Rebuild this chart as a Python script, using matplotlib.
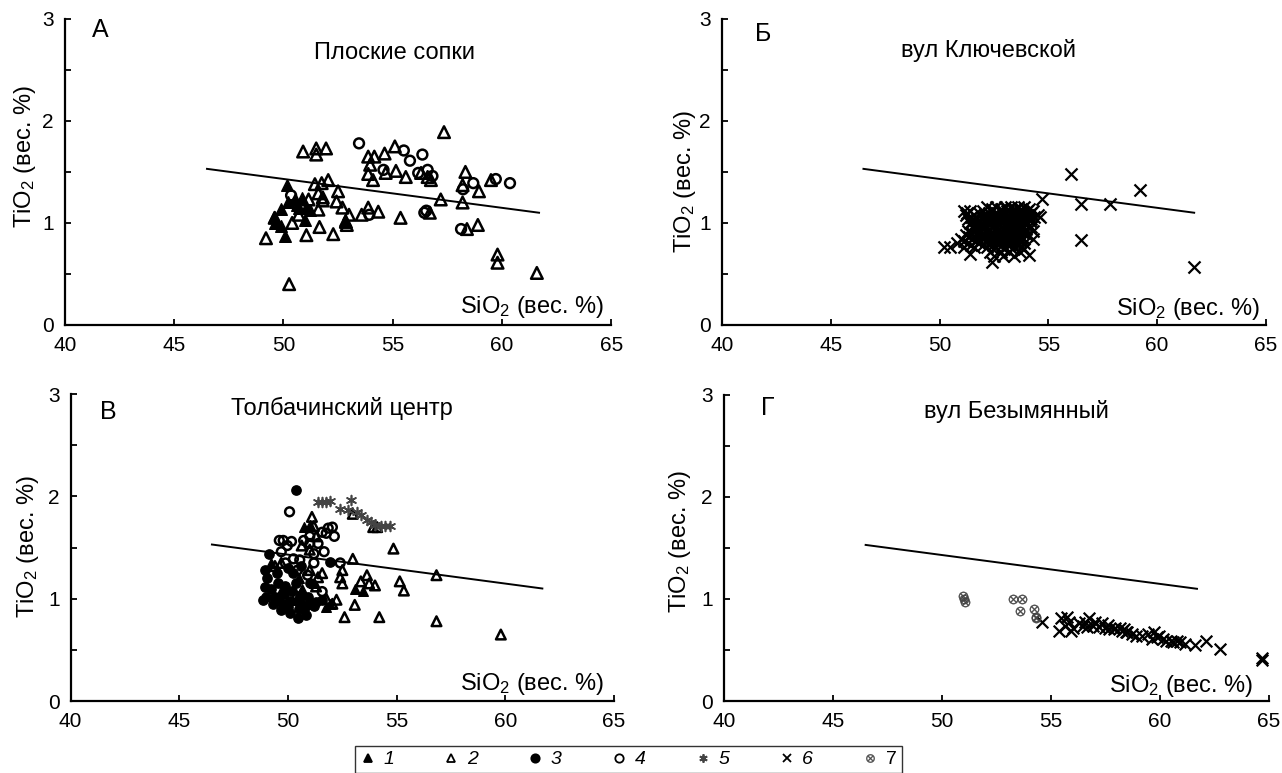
import numpy as np
import matplotlib
matplotlib.use("Agg")
import matplotlib.pyplot as plt
from matplotlib.lines import Line2D
from matplotlib.ticker import MultipleLocator

plt.rcParams['font.family'] = ['Liberation Sans', 'DejaVu Sans']
plt.rcParams['mathtext.default'] = 'regular'

# ---- data (SiO2, TiO2, wt.%) ----
# reference line, same in all panels
line_x = [46.5, 61.7]
line_y = [1.53, 1.10]

# panel A  (Плоские сопки)
a_s1 = [(50.17, 1.37), (49.91, 1.14), (50.2, 1.21), (49.56, 1.06), (49.6, 1.0),
        (49.91, 0.97), (50.06, 0.87), (50.6, 1.18), (50.72, 1.15), (50.87, 1.24),
        (51.05, 1.15), (50.98, 1.03), (50.52, 1.23), (51.2, 1.13), (52.8, 1.03)]
a_s2 = [(49.2, 0.85), (49.6, 1.05), (50.26, 0.40), (50.4, 1.0), (50.7, 1.08),
        (50.9, 1.70), (51.05, 0.88), (51.5, 1.73), (51.5, 1.67), (51.95, 1.73),
        (51.44, 1.38), (51.75, 1.39), (52.05, 1.42), (51.6, 1.29), (51.8, 1.25),
        (51.8, 1.22), (51.6, 1.13), (51.65, 0.96), (51.15, 1.23), (52.28, 0.89),
        (52.5, 1.31), (52.43, 1.21), (52.7, 1.15), (53.0, 1.08), (52.86, 1.01),
        (52.9, 0.98), (53.58, 1.08), (53.88, 1.15), (54.34, 1.11), (55.36, 1.05),
        (53.88, 1.65), (53.97, 1.57), (53.88, 1.48), (54.1, 1.42), (54.16, 1.65),
        (54.63, 1.68), (54.68, 1.49), (55.1, 1.75), (55.15, 1.51), (55.6, 1.45),
        (56.3, 1.49), (56.6, 1.45), (56.75, 1.42), (56.7, 1.10), (57.35, 1.89),
        (57.2, 1.23), (58.33, 1.50), (58.2, 1.37), (58.2, 1.20), (58.4, 0.94),
        (58.95, 1.31), (58.9, 0.98), (59.5, 1.42), (59.8, 0.69), (59.8, 0.61),
        (61.6, 0.51)]
a_s4 = [(53.46, 1.78), (55.51, 1.71), (55.79, 1.61), (56.36, 1.67), (54.58, 1.52),
        (56.17, 1.49), (56.6, 1.52), (56.82, 1.46), (53.93, 1.08), (56.54, 1.12),
        (56.45, 1.10), (58.22, 1.33), (58.69, 1.39), (59.72, 1.43), (60.37, 1.39),
        (58.13, 0.94), (50.35, 1.27)]

# panel Б  (вул Ключевской): outliers, then the dense cluster row by row
b_s6 = [(56.05, 1.48), (56.48, 1.19), (57.84, 1.19), (59.22, 1.32), (56.48, 0.83),
        (61.67, 0.57), (54.69, 1.23), (54.6, 1.06), (54.3, 0.92), (54.1, 0.69),
        (52.2, 1.16), (52.6, 1.16), (53.0, 1.16), (53.3, 1.16), (53.6, 1.16), (53.9, 1.16),
        (52.4, 1.14), (52.8, 1.14), (53.15, 1.14), (53.45, 1.14), (53.75, 1.14), (54.1, 1.14),
        (51.1, 1.12), (51.4, 1.12), (52.0, 1.12), (52.4, 1.12), (52.8, 1.12), (53.1, 1.12),
        (53.4, 1.12), (53.7, 1.12), (54.0, 1.12), (54.3, 1.12),
        (51.25, 1.10), (51.8, 1.10), (52.25, 1.10), (52.65, 1.10), (52.95, 1.10),
        (53.25, 1.10), (53.55, 1.10), (53.85, 1.10), (54.2, 1.10),
        (51.2, 1.08), (51.6, 1.08), (52.1, 1.08), (52.5, 1.08), (52.9, 1.08), (53.2, 1.08),
        (53.5, 1.08), (53.8, 1.08), (54.1, 1.08), (54.5, 1.08),
        (51.45, 1.06), (51.95, 1.06), (52.35, 1.06), (52.75, 1.06), (53.15, 1.06),
        (53.45, 1.06), (53.75, 1.06), (54.05, 1.06), (54.35, 1.06),
        (51.3, 1.04), (51.7, 1.04), (52.2, 1.04), (52.6, 1.04), (53.0, 1.04), (53.3, 1.04),
        (53.6, 1.04), (53.9, 1.04), (54.2, 1.04),
        (51.55, 1.02), (52.05, 1.02), (52.45, 1.02), (52.85, 1.02), (53.25, 1.02),
        (53.55, 1.02), (53.85, 1.02), (54.15, 1.02),
        (51.4, 1.00), (51.9, 1.00), (52.3, 1.00), (52.7, 1.00), (53.1, 1.00), (53.4, 1.00),
        (53.7, 1.00), (54.0, 1.00),
        (51.65, 0.98), (52.1, 0.98), (52.55, 0.98), (52.95, 0.98), (53.3, 0.98),
        (53.65, 0.98), (53.95, 0.98),
        (51.5, 0.96), (51.9, 0.96), (52.4, 0.96), (52.8, 0.96), (53.2, 0.96), (53.5, 0.96),
        (53.8, 0.96), (54.2, 0.96),
        (51.6, 0.94), (52.0, 0.94), (52.5, 0.94), (52.9, 0.94), (53.3, 0.94), (53.6, 0.94),
        (53.95, 0.94),
        (51.3, 0.92), (51.8, 0.92), (52.2, 0.92), (52.6, 0.92), (53.0, 0.92), (53.4, 0.92),
        (53.7, 0.92),
        (51.5, 0.90), (51.95, 0.90), (52.4, 0.90), (52.8, 0.90), (53.15, 0.90),
        (53.5, 0.90), (53.85, 0.90),
        (51.2, 0.88), (51.7, 0.88), (52.1, 0.88), (52.5, 0.88), (52.9, 0.88), (53.3, 0.88),
        (53.6, 0.88), (54.0, 0.88),
        (51.35, 0.86), (51.9, 0.86), (52.3, 0.86), (52.7, 0.86), (53.1, 0.86),
        (53.45, 0.86), (53.8, 0.86),
        (51.0, 0.84), (51.5, 0.84), (52.0, 0.84), (52.4, 0.84), (52.8, 0.84), (53.2, 0.84),
        (53.6, 0.84), (54.3, 0.84),
        (51.1, 0.82), (51.65, 0.82), (52.15, 0.82), (52.55, 0.82), (52.95, 0.82),
        (53.35, 0.82), (53.75, 0.82),
        (50.8, 0.80), (51.3, 0.80), (51.8, 0.80), (52.3, 0.80), (52.7, 0.80), (53.1, 0.80),
        (53.5, 0.80), (53.9, 0.80),
        (51.45, 0.78), (52.0, 0.78), (52.45, 0.78), (52.85, 0.78), (53.25, 0.78),
        (53.65, 0.78),
        (50.2, 0.76), (50.5, 0.76), (51.1, 0.76), (51.6, 0.76), (52.2, 0.76), (52.6, 0.76),
        (53.0, 0.76), (53.4, 0.76), (53.8, 0.76),
        (52.45, 0.74), (52.95, 0.74), (53.35, 0.74), (53.9, 0.74),
        (51.4, 0.70), (52.3, 0.72), (52.8, 0.72), (53.2, 0.72), (53.7, 0.72),
        (52.5, 0.68), (52.9, 0.68), (53.4, 0.68), (52.4, 0.62)]

# panel В  (Толбачинский центр)
v_s1 = [(49.22, 1.35), (49.88, 1.10), (50.63, 1.10), (50.72, 1.70), (51.0, 1.72),
        (51.76, 0.92), (51.94, 0.95), (50.35, 0.99), (49.69, 1.08), (53.07, 1.10),
        (53.45, 1.08), (50.5, 1.20), (51.2, 1.15)]
v_s2 = [(51.1, 1.80), (51.19, 1.71), (52.98, 1.83), (53.92, 1.70), (54.1, 1.70),
        (54.85, 1.49), (52.98, 1.39), (56.83, 1.23), (55.14, 1.17), (55.33, 1.08),
        (53.63, 1.23), (53.35, 1.17), (53.73, 1.15), (54.0, 1.13), (52.5, 1.28),
        (52.4, 1.21), (52.5, 1.15), (52.23, 0.99), (52.04, 0.95), (51.76, 1.0),
        (53.07, 0.94), (52.6, 0.82), (54.2, 0.82), (56.83, 0.78), (59.79, 0.65),
        (51.57, 1.25), (51.38, 1.21), (51.29, 1.12), (51.0, 1.28), (49.69, 1.35),
        (50.63, 1.52), (51.0, 1.48), (51.29, 1.61), (49.4, 1.32)]
v_s3 = [(48.85, 0.99), (48.94, 1.28), (49.03, 1.20), (49.13, 1.44), (49.22, 1.10),
        (49.41, 1.02), (49.69, 0.89), (49.88, 0.95), (50.07, 0.86), (50.44, 0.81),
        (50.82, 0.84), (50.63, 0.94), (51.0, 0.95), (51.29, 0.97), (51.57, 0.99),
        (50.54, 1.02), (50.25, 1.25), (50.35, 1.15), (51.0, 1.15), (51.94, 1.36),
        (50.9, 1.02), (49.5, 1.25), (49.88, 1.12), (50.35, 2.06), (49.0, 1.02),
        (48.95, 1.11), (49.6, 0.98), (49.8, 1.05), (50.1, 0.98), (50.2, 1.08),
        (50.5, 0.90), (50.8, 0.92), (49.3, 0.95), (50.0, 1.30), (50.6, 1.32),
        (51.2, 0.93), (49.55, 1.15), (50.0, 0.92)]
v_s4 = [(50.07, 1.85), (49.6, 1.57), (49.78, 1.57), (49.97, 1.52), (49.69, 1.46),
        (49.88, 1.35), (50.16, 1.56), (50.72, 1.57), (51.0, 1.61), (51.57, 1.65),
        (51.85, 1.69), (52.04, 1.70), (52.13, 1.61), (51.76, 1.64), (51.19, 1.44),
        (51.66, 1.46), (50.54, 1.38), (50.44, 1.28), (50.9, 1.23), (51.57, 1.07),
        (50.44, 1.02), (51.19, 1.35), (52.4, 1.35), (50.25, 1.39), (51.0, 1.54),
        (51.38, 1.54)]
v_s5 = [(51.38, 1.95), (51.57, 1.95), (51.76, 1.95), (51.94, 1.96), (52.9, 1.97),
        (52.4, 1.88), (52.78, 1.87), (53.16, 1.85), (53.35, 1.82), (53.63, 1.77),
        (53.82, 1.75), (54.0, 1.72), (54.3, 1.71), (54.48, 1.71), (54.67, 1.71)]

# panel Г  (вул Безымянный)
g_s6 = [(54.61, 0.77), (55.36, 0.69), (55.45, 0.81), (55.73, 0.82), (55.92, 0.69),
        (55.82, 0.77), (56.29, 0.76), (56.57, 0.77), (56.76, 0.81), (56.95, 0.74),
        (57.2, 0.73), (57.5, 0.72), (57.68, 0.71), (57.96, 0.72), (58.24, 0.69),
        (58.5, 0.68), (58.7, 0.66), (58.9, 0.64), (59.46, 0.66), (59.74, 0.68),
        (59.64, 0.61), (59.94, 0.64), (60.3, 0.59), (60.6, 0.58), (60.9, 0.58),
        (61.16, 0.56), (61.63, 0.55), (62.1, 0.59), (62.75, 0.51), (64.66, 0.42),
        (64.7, 0.40), (56.48, 0.74), (56.67, 0.73), (57.04, 0.77), (57.32, 0.76),
        (57.6, 0.75), (57.88, 0.71), (58.16, 0.72), (58.44, 0.68), (58.35, 0.71),
        (59.2, 0.64), (59.85, 0.63), (60.13, 0.61), (60.5, 0.59), (60.8, 0.59),
        (55.64, 0.74), (56.0, 0.72)]
g_s7 = [(50.96, 1.03), (51.0, 1.0), (51.05, 0.97), (53.24, 1.0), (53.67, 1.0),
        (53.58, 0.88), (54.23, 0.90), (54.33, 0.82), (54.3, 0.81)]

legend_labels = ['1', '2', '3', '4', '5', '6', '7']
panel_letters = ['А', 'Б', 'В', 'Г']
panel_titles = ['Плоские сопки', 'вул Ключевской', 'Толбачинский центр', 'вул Безымянный']

# ---- marker styles for the 7 groups ----
asterisk = (6, 2, 0)
st = {
    1: dict(marker='^', facecolors='black', edgecolors='black', linewidths=1.0),
    2: dict(marker='^', facecolors='none', edgecolors='black', linewidths=1.8),
    3: dict(marker='o', facecolors='black', edgecolors='black', linewidths=1.0),
    4: dict(marker='o', facecolors='none', edgecolors='black', linewidths=1.8),
    5: dict(marker=asterisk, c='#444444', linewidths=1.2),
    6: dict(marker='x', c='black', linewidths=1.6),
    7: dict(marker=r'$\otimes$', c='#444444', linewidths=0.3),
}

fig = plt.figure(figsize=(12.82, 7.73), dpi=100)
boxes = [[0.0507, 0.5796, 0.426, 0.396],
         [0.5632, 0.5796, 0.4243, 0.396],
         [0.0551, 0.0931, 0.4239, 0.397],
         [0.5647, 0.0931, 0.4251, 0.396]]
axs = [fig.add_axes(b) for b in boxes]


def sc(ax, pts, k, s):
    p = np.array(pts)
    ax.scatter(p[:, 0], p[:, 1], s=s, zorder=3, **st[k])


sc(axs[0], a_s2, 2, 70)
sc(axs[0], a_s1, 1, 70)
sc(axs[0], a_s4, 4, 50)

sc(axs[1], b_s6, 6, 75)

sc(axs[2], v_s3, 3, 45)
sc(axs[2], v_s4, 4, 40)
sc(axs[2], v_s2, 2, 48)
sc(axs[2], v_s1, 1, 48)
sc(axs[2], v_s5, 5, 50)

sc(axs[3], g_s6, 6, 70)
sc(axs[3], g_s7, 7, 45)

# text placement (data coords)
letter_pos = [(41.22, 2.82), (41.5, 2.78), (41.35, 2.76), (41.7, 2.80)]
title_pos = [(55.1, 2.61), (52.27, 2.63), (52.48, 2.80), (53.4, 2.77)]
xlab_pos = [(64.68, 0.12), (64.72, 0.10), (64.54, 0.11), (64.27, 0.09)]
ylab_pos = [(-0.074, 0.549), (-0.068, 0.467), (-0.079, 0.503), (-0.081, 0.521)]

for i, ax in enumerate(axs):
    ax.plot(line_x, line_y, color='black', lw=1.4, zorder=2)
    ax.set_xlim(40, 65)
    ax.set_ylim(0, 3)
    ax.set_xticks([40, 45, 50, 55, 60, 65])
    ax.set_yticks([0, 1, 2, 3])
    ax.yaxis.set_minor_locator(MultipleLocator(0.5))
    ax.tick_params(which='both', direction='in', length=4, width=1.3,
                   labelsize=15, pad=8)
    ax.tick_params(axis='x', which='minor', length=0)
    for side in ['top', 'right']:
        ax.spines[side].set_visible(False)
    for side in ['left', 'bottom']:
        ax.spines[side].set_linewidth(1.6)
    ax.text(*letter_pos[i], panel_letters[i], fontsize=18, ha='left', va='baseline')
    ax.text(*title_pos[i], panel_titles[i], fontsize=17, ha='center', va='baseline')
    ax.text(*xlab_pos[i], 'SiO$_2$ (вес. %)', fontsize=17, ha='right', va='baseline')
    ax.text(*ylab_pos[i], 'TiO$_2$ (вес. %)', fontsize=17, ha='center', va='center',
            rotation=90, transform=ax.transAxes)

# legend row at the bottom
handles = []
for k in range(1, 8):
    d = st[k]
    fc = d.get('facecolors', d.get('c'))
    ec = d.get('edgecolors', d.get('c'))
    handles.append(Line2D([], [], ls='none', marker=d['marker'], markersize=6,
                          markerfacecolor=fc, markeredgecolor=ec,
                          markeredgewidth=1.3 if k != 7 else 0.3))
leg = fig.legend(handles, legend_labels, ncol=7, loc='upper left',
                 bbox_to_anchor=(355 / 1282, 1 - 746 / 773), borderaxespad=0,
                 fontsize=14, frameon=True, fancybox=False, edgecolor='black',
                 handlelength=0.8, handletextpad=0.4, columnspacing=2.55,
                 borderpad=0.25)
leg.get_frame().set_linewidth(1.0)
for t in leg.get_texts()[:6]:
    t.set_fontstyle('italic')

fig.savefig('out.png', dpi=100)
